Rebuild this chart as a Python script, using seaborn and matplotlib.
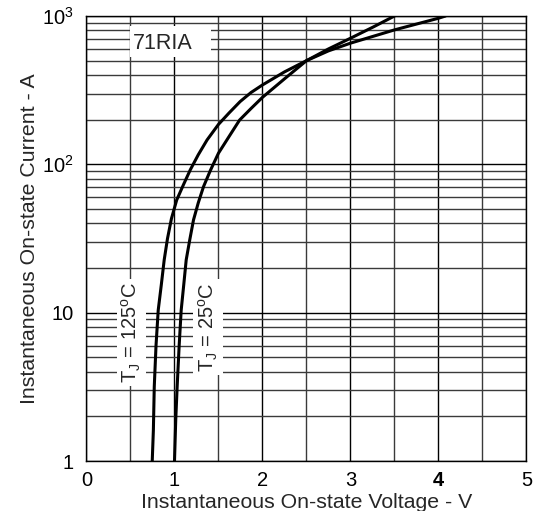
import matplotlib
matplotlib.use("Agg")
import matplotlib.pyplot as plt
from matplotlib.patches import Rectangle
import seaborn as sns
import pandas as pd
from matplotlib.ticker import FixedLocator, NullFormatter

# ---- data ----
v_125 = [0.747, 0.76, 0.77, 0.79, 0.815, 0.85, 0.883, 0.92, 0.965, 1.025, 1.10, 1.18,
         1.27, 1.37, 1.5, 1.62, 1.746, 1.87, 2.0, 2.25, 2.5, 2.75, 3.0, 3.5, 4.0, 4.08]
i_125 = [1, 1.62, 3.16, 6.0, 10.4, 15.4, 22.7, 31.5, 43, 57.5, 72.5, 92,
         116, 146, 186, 222, 265, 305, 343, 420, 500, 582, 656, 806, 966, 1000]

v_25 = [1.0, 1.014, 1.03, 1.053, 1.076, 1.105, 1.133, 1.173, 1.216, 1.27, 1.33, 1.41,
        1.5, 1.617, 1.74, 1.87, 2.0, 2.25, 2.5, 2.75, 3.0, 3.26, 3.5]
i_25 = [1, 1.89, 3.16, 6.0, 10.4, 15.4, 22.7, 30.9, 42.2, 55, 70.8, 91.6,
        119, 153, 199, 238, 283, 377, 500, 600, 708, 844, 1000]

x_ticks = [0, 1, 2, 3, 4, 5]
x_tick_labels = ["0", "1", "2", "3", "4", "5"]
y_ticks = [1, 10, 100, 1000]
y_tick_labels = ["1", "10", r"10$^\mathregular{2}$", r"10$^\mathregular{3}$"]
series_names = ["125C", "25C"]

sns.set_style("white")
plt.rcParams["font.family"] = ["Liberation Sans", "DejaVu Sans"]
plt.rcParams["mathtext.fontset"] = "custom"
plt.rcParams["mathtext.rm"] = "Liberation Sans"
plt.rcParams["mathtext.it"] = "Liberation Sans:italic"

df = pd.concat([
    pd.DataFrame({"V": v_125, "I": i_125, "s": series_names[0]}),
    pd.DataFrame({"V": v_25, "I": i_25, "s": series_names[1]}),
])

fig = plt.figure(figsize=(5.43, 5.11), dpi=100)
ax = fig.add_axes([0.1593, 0.0978, 0.9696 - 0.1593, 0.9687 - 0.0978])

sns.lineplot(data=df, x="V", y="I", units="s", estimator=None, sort=False,
             color="black", linewidth=2.2, ax=ax, legend=False)
for ln in ax.lines:
    ln.set_solid_joinstyle("round")
    ln.set_zorder(4)

ax.set_yscale("log")
ax.set_xlim(0, 5)
ax.set_ylim(1, 1000)

# grid
ax.xaxis.set_major_locator(FixedLocator(x_ticks))
ax.xaxis.set_minor_locator(FixedLocator([0.5, 1.5, 2.5, 3.5, 4.5]))
ax.yaxis.set_major_locator(FixedLocator(y_ticks))
minor_y = [m * d for d in (1, 10, 100) for m in range(2, 10)]
ax.yaxis.set_minor_locator(FixedLocator(minor_y))
ax.yaxis.set_minor_formatter(NullFormatter())
ax.xaxis.set_minor_formatter(NullFormatter())
ax.grid(True, which="major", color="black", linewidth=1.0)
ax.grid(True, which="minor", color="#3a3a3a", linewidth=1.0)
ax.set_axisbelow(True)

ax.set_xticklabels(x_tick_labels)
ax.set_yticklabels(y_tick_labels)
for lbl in ax.get_xticklabels():
    if lbl.get_text() == "4":
        lbl.set_fontweight("bold")
ax.tick_params(axis="both", which="both", length=0, labelsize=14.5, colors="black")
ax.tick_params(axis="x", pad=7)
ax.tick_params(axis="y", pad=9)

for sp in ax.spines.values():
    sp.set_visible(True)
    sp.set_color("black")
    sp.set_linewidth(1.0)

ax.set_xlabel("Instantaneous On-state Voltage - V", fontsize=15.3)
ax.xaxis.set_label_coords(0.5, -0.072)
ax.set_ylabel("Instantaneous On-state Current - A", fontsize=15.3, labelpad=2)

# white label areas
ax.add_patch(Rectangle((0.497, 530), 1.417 - 0.497, 850 - 530, facecolor="white",
                       edgecolor="none", zorder=2))
ax.text(0.87, 650, "71RIA", fontsize=15.5, ha="center", va="center", zorder=3)
ax.text(0.51, 7.3, r"T$_\mathregular{J}$ = 125$^\mathregular{o}$C", fontsize=14.5, rotation=90,
        ha="center", va="center",
        bbox=dict(boxstyle="square,pad=0.15", facecolor="white", edgecolor="none"), zorder=3)
ax.text(1.38, 8.0, r"T$_\mathregular{J}$ = 25$^\mathregular{o}$C", fontsize=14.5, rotation=90,
        ha="center", va="center",
        bbox=dict(boxstyle="square,pad=0.15", facecolor="white", edgecolor="none"), zorder=3)

fig.savefig("out.png", dpi=100)
